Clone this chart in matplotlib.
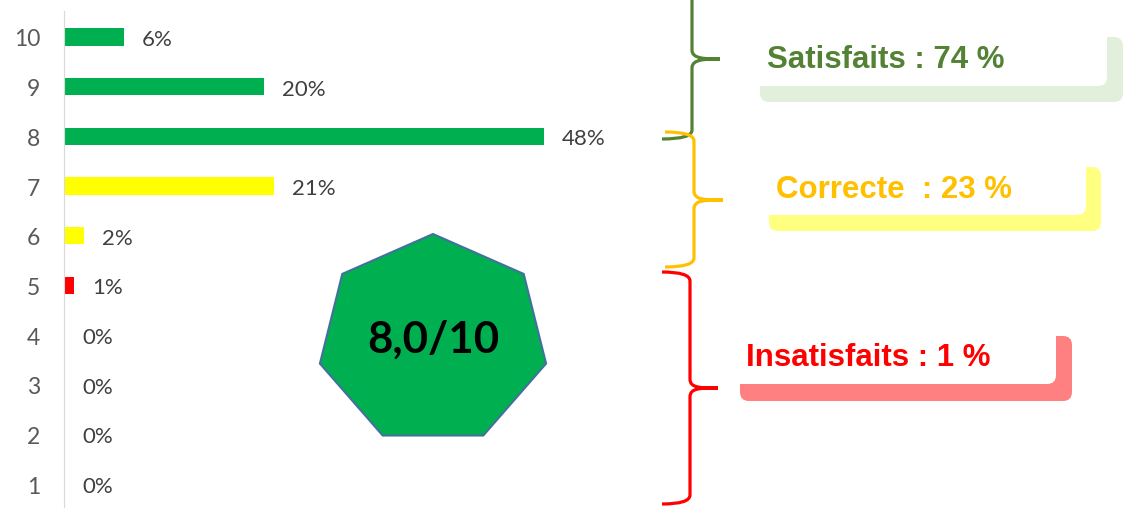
import numpy as np
import matplotlib.pyplot as plt
from matplotlib.path import Path
from matplotlib.patches import PathPatch, FancyBboxPatch, Polygon

# scores 1..10 and share of answers (%)
notes = [1, 2, 3, 4, 5, 6, 7, 8, 9, 10]
parts = [0, 0, 0, 0, 1, 2, 21, 48, 20, 6]
couleurs = ['#FF0000'] * 5 + ['#FFFF00'] * 2 + ['#00B050'] * 3
moyenne = '8,0/10'
groupes = ['Satisfaits : 74 %', 'Correcte  : 23 %', 'Insatisfaits : 1 %']

W, H = 1130, 510
fig = plt.figure(figsize=(W / 100, H / 100), dpi=100)

# bar chart
ax = fig.add_axes([64 / W, 0, 1 - 64 / W, 1])
ax.barh(notes, parts, height=0.35, color=couleurs)
for n, p in zip(notes, parts):
    ax.text(p + 1.8, n, f'{p}%', va='center_baseline', ha='left',
            fontsize=16, color='#404040', family='Lato')
ax.set_ylim(0.497, 10.765)
ax.set_xlim(0, (W - 64) / 10)
ax.set_yticks(notes)
ax.set_yticklabels([str(n) for n in notes], fontsize=16.5, color='#595959',
                   family='Lato')
ax.tick_params(axis='y', length=0, pad=17)
ax.set_xticks([])
for s in ['top', 'right', 'bottom']:
    ax.spines[s].set_visible(False)
ax.spines['left'].set_color('#D9D9D9')
ax.spines['left'].set_bounds(0.537, 10.523)
ax.patch.set_alpha(0)

# overlay in pixel coordinates for the shapes
ov = fig.add_axes([0, 0, 1, 1])
ov.set_xlim(0, W)
ov.set_ylim(H, 0)
ov.axis('off')
ov.patch.set_alpha(0)

# heptagon with the average score
cx, cy, rx, ry = 433, 341, 116, 106
ang = np.pi / 2 + np.arange(7) * 2 * np.pi / 7
pts = np.column_stack([cx + rx * np.cos(ang), cy - ry * np.sin(ang)])
ov.add_patch(Polygon(pts, closed=True, facecolor='#00B050',
                     edgecolor='#41719C', lw=1.5))
ov.text(cx, 340, moyenne, ha='center', va='center', fontsize=31.5,
        fontweight='bold', color='black', family='Lato')


def accolade(x0, ytop, ymid, ybot, xtip, xend_top, xend_bot, col, r=9):
    verts = [(xend_top, ytop), (x0, ytop), (x0, ytop + r),
             (x0, ymid - r),
             (x0, ymid), (xtip - 18, ymid), (xtip, ymid),
             (xtip, ymid), (xtip - 18, ymid), (x0, ymid), (x0, ymid + r),
             (x0, ybot - r),
             (x0, ybot), (xend_bot, ybot)]
    codes = [Path.MOVETO, Path.CURVE3, Path.CURVE3,
             Path.LINETO,
             Path.CURVE4, Path.CURVE4, Path.CURVE4,
             Path.MOVETO, Path.CURVE4, Path.CURVE4, Path.CURVE4,
             Path.LINETO,
             Path.CURVE3, Path.CURVE3]
    ov.add_patch(PathPatch(Path(verts, codes), fill=False, edgecolor=col,
                           lw=2.3, capstyle='butt'))


accolade(692, -40, 60, 140, 723, 662, 662, '#548235')
accolade(694, 133, 201, 268, 723, 665, 665, '#FFC000')
accolade(690, 273, 389, 505, 718, 662, 662, '#FF0000')


def cadre(x0, y0, x1, y1, xi, yi, fond, texte, col, xt, yt):
    ov.add_patch(FancyBboxPatch((x0, y0), x1 - x0, y1 - y0,
                                boxstyle='round,pad=0,rounding_size=9',
                                facecolor=fond, edgecolor='none'))
    ov.add_patch(FancyBboxPatch((x0 - 40, y0 - 40), xi - x0 + 40,
                                yi - y0 + 40,
                                boxstyle='round,pad=0,rounding_size=9',
                                facecolor='white', edgecolor='none'))
    ov.text(xt, yt, texte, ha='left', va='center_baseline', fontsize=22.5,
            fontweight='bold', color=col, family='Liberation Sans')


cadre(760, 38, 1123, 103, 1107, 87, '#E2EFDA', groupes[0], '#548235', 767, 57)
cadre(769, 168, 1101, 232, 1086, 216, '#FFFF80', groupes[1], '#FFC000', 776, 187)
cadre(740, 337, 1072, 402, 1056, 385, '#FF8080', groupes[2], '#FF0000', 746, 355)

fig.savefig('out.png', dpi=100)
